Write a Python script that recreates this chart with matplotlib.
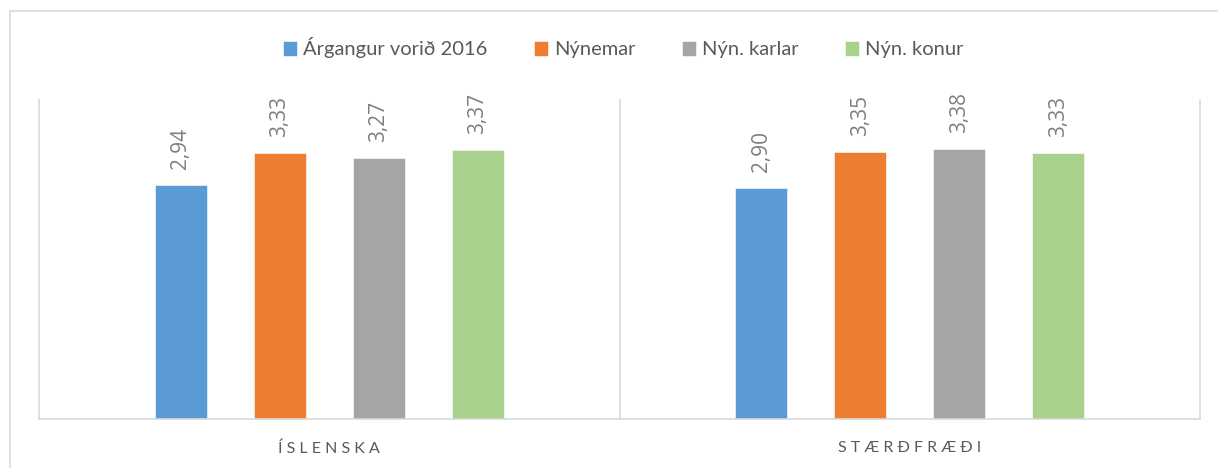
import numpy as np
import matplotlib.pyplot as plt
from matplotlib.patches import Rectangle

categories = ['Í S L E N S K A', 'S T Æ R Ð F R Æ Ð I']
series = ['Árgangur vorið 2016', 'Nýnemar', 'Nýn. karlar', 'Nýn. konur']
values = [
    [2.94, 2.90],
    [3.33, 3.35],
    [3.27, 3.38],
    [3.37, 3.33],
]
colors = ['#5b9bd5', '#ed7d31', '#a5a5a5', '#a9d18e']

plt.rcParams['font.family'] = ['Lato', 'DejaVu Sans']

fig = plt.figure(figsize=(12.18, 4.68), dpi=100)
ax = fig.add_axes([39 / 1218, 1 - 419 / 468, (1200 - 39) / 1218, (419 - 100) / 468])

# outer chart border
fig.patches.append(Rectangle((10 / 1218, -0.1), 1.2, 1 - 11 / 468 + 0.1,
                             transform=fig.transFigure, fill=False,
                             edgecolor='#d9d9d9', linewidth=1.2))

x = np.arange(len(categories))
step = 0.1707
width = 0.0897
for i, (name, vals, col) in enumerate(zip(series, values, colors)):
    pos = x + (i - 1.5) * step
    ax.bar(pos, vals, width, color=col, label=name, edgecolor='white', linewidth=0.4)
    for px, v in zip(pos, vals):
        ax.text(px, v + 0.2, ('%.2f' % v).replace('.', ','), rotation=90,
                ha='center', va='bottom', fontsize=15, color='#7f7f7f',
                family=['Open Sans', 'DejaVu Sans'])

ax.set_xlim(-0.5, 1.5)
ax.set_ylim(0, 4)
for xv in [-0.5, 0.5, 1.5]:
    ax.plot([xv, xv], [0, 4], color='#d9d9d9', linewidth=1.2, clip_on=False)

for s in ['top', 'right', 'left']:
    ax.spines[s].set_visible(False)
ax.spines['bottom'].set_color('#d9d9d9')
ax.spines['bottom'].set_linewidth(1.2)
ax.set_yticks([])
ax.set_xticks(x)
ax.set_xticklabels(categories, fontsize=11.5, color='#595959')
ax.tick_params(axis='x', length=0, pad=16)

fig.legend(loc='center', bbox_to_anchor=(0.512, 1 - 48 / 468), ncol=4,
           frameon=False, fontsize=14.5, handlelength=0.7, handleheight=0.7,
           handletextpad=0.3, columnspacing=2.3, labelcolor='#595959')

fig.savefig('out.png', dpi=100)
